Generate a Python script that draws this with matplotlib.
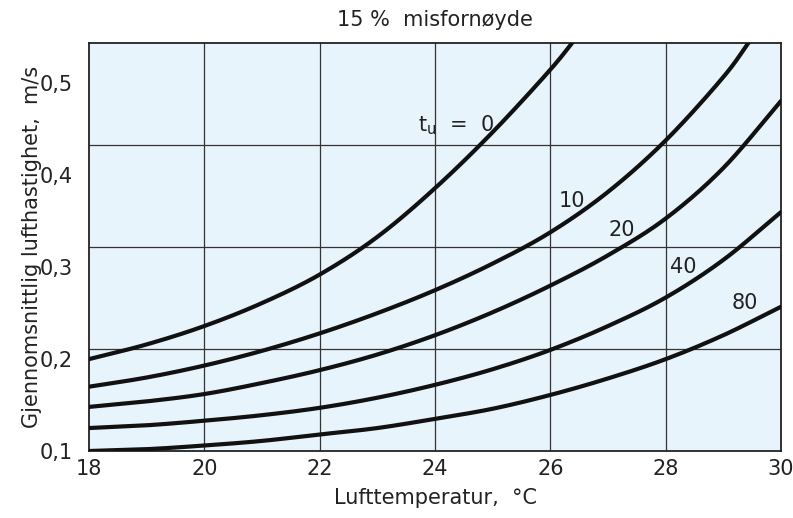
import matplotlib

matplotlib.use("Agg")
import matplotlib.pyplot as plt
import numpy as np

plt.rcParams["font.family"] = ["DejaVu Sans"]

# curve data: air temperature (degC) -> mean air velocity (m/s), per t_u
t0 = [18, 19, 20, 21, 22, 23, 24, 25, 26, 26.5]
v0 = [0.200, 0.216, 0.236, 0.261, 0.292, 0.333, 0.386, 0.447, 0.515, 0.554]
t10 = [18, 19, 20, 21, 22, 23, 24, 25, 26, 27, 28, 29, 29.5]
v10 = [0.170, 0.180, 0.193, 0.209, 0.228, 0.250, 0.275, 0.304, 0.338, 0.382, 0.438, 0.507, 0.550]
t20 = [18, 19, 20, 21, 22, 23, 24, 25, 26, 27, 28, 29, 30]
v20 = [0.148, 0.154, 0.162, 0.174, 0.188, 0.205, 0.226, 0.251, 0.280, 0.313, 0.353, 0.408, 0.481]
t40 = [18, 19, 20, 21, 22, 23, 24, 25, 26, 27, 28, 29, 30]
v40 = [0.125, 0.128, 0.133, 0.139, 0.147, 0.158, 0.172, 0.189, 0.210, 0.236, 0.267, 0.308, 0.360]
t80 = [18, 19, 20, 21, 22, 23, 24, 25, 26, 27, 28, 29, 30]
v80 = [0.100, 0.102, 0.106, 0.111, 0.118, 0.125, 0.135, 0.146, 0.161, 0.179, 0.200, 0.226, 0.257]

curves = [(t0, v0), (t10, v10), (t20, v20), (t40, v40), (t80, v80)]
labels = [r"t$_\mathregular{u}$  =  0", "10", "20", "40", "80"]
label_pos = [(23.7, 0.455), (26.15, 0.372), (27.0, 0.341), (28.08, 0.300), (29.15, 0.261)]

xticks = [18, 20, 22, 24, 26, 28, 30]
yticks = [0.1, 0.2, 0.3, 0.4, 0.5]
ytick_labels = ["0,1", "0,2", "0,3", "0,4", "0,5"]


def smooth(x, y, n=20):
    # Catmull-Rom through the read points, just for drawing
    x = np.asarray(x, float)
    y = np.asarray(y, float)
    px = np.concatenate([[2 * x[0] - x[1]], x, [2 * x[-1] - x[-2]]])
    py = np.concatenate([[2 * y[0] - y[1]], y, [2 * y[-1] - y[-2]]])
    xs, ys = [], []
    s = np.linspace(0, 1, n, endpoint=False)
    for i in range(1, len(px) - 2):
        for p, out in ((px, xs), (py, ys)):
            p0, p1, p2, p3 = p[i - 1], p[i], p[i + 1], p[i + 2]
            out.extend(0.5 * (2 * p1 + (-p0 + p2) * s
                              + (2 * p0 - 5 * p1 + 4 * p2 - p3) * s**2
                              + (-p0 + 3 * p1 - 3 * p2 + p3) * s**3))
    xs.append(x[-1])
    ys.append(y[-1])
    return np.array(xs), np.array(ys)


fig = plt.figure(figsize=(7.93, 5.18), dpi=100)
ax = fig.add_axes([0.1122, 0.1293, 0.8727, 0.7877])
ax.set_facecolor("#e8f4fb")

# grid: vertical at x ticks, horizontal split into quarters (as in the original)
for x in xticks[1:-1]:
    ax.axvline(x, color="#333333", lw=0.9, zorder=1)
for f in (0.25, 0.5, 0.75):
    ax.plot([0, 1], [f, f], transform=ax.transAxes, color="#333333", lw=0.9, zorder=1)

for (t, v) in curves:
    xs, ys = smooth(t, v)
    ax.plot(xs, ys, color="#111111", lw=3.0, solid_capstyle="round", zorder=3)

for lab, (x, y) in zip(labels, label_pos):
    ax.text(x, y, lab, fontsize=15, color="#222222", ha="left", va="center", zorder=4)

ax.set_xlim(18, 30)
ax.set_ylim(0.1, 0.544)
ax.set_xticks(xticks)
ax.set_yticks(yticks)
ax.set_yticklabels(ytick_labels)
ax.tick_params(length=0, labelsize=15, colors="#222222")
ax.tick_params(axis="x", pad=6)
ax.tick_params(axis="y", pad=12)
for s in ax.spines.values():
    s.set_linewidth(1.3)
    s.set_color("#222222")

ax.set_xlabel("Lufttemperatur,  °C", fontsize=15, color="#222222", labelpad=6)
ax.set_ylabel("Gjennomsnittlig lufthastighet,  m/s", fontsize=15, color="#222222", labelpad=-2)
ax.set_title("15 %  misfornøyde", fontsize=15, color="#222222", pad=12)

fig.savefig("out.png", dpi=100)
